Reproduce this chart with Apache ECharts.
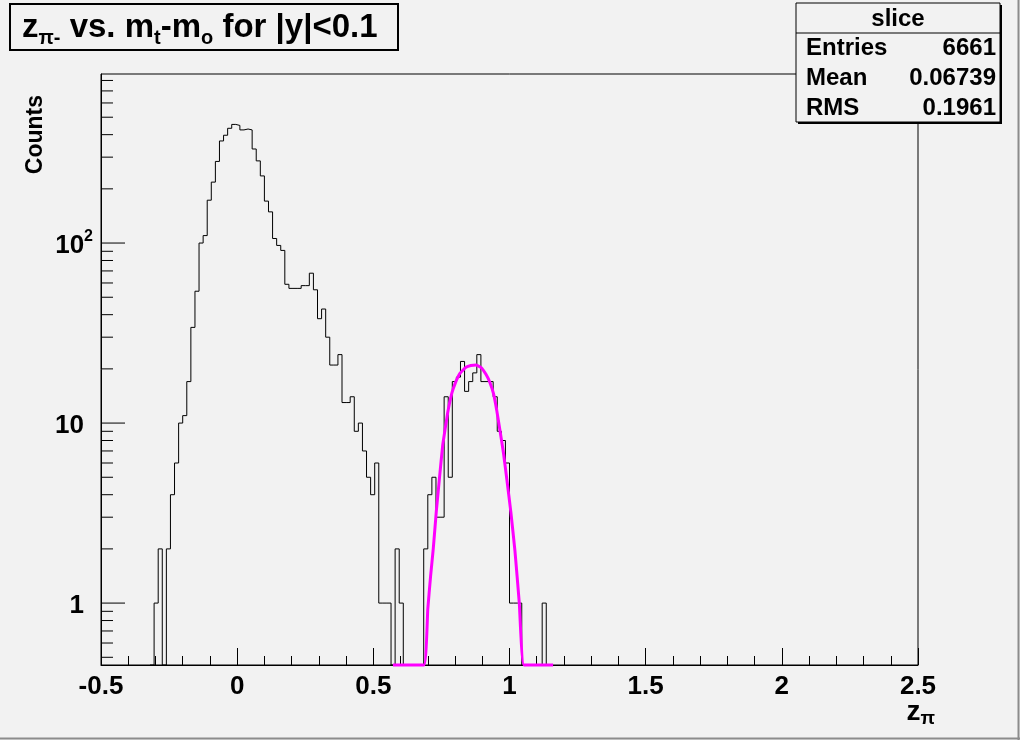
<!DOCTYPE html>
<html><head><meta charset="utf-8">
<script src="https://cdn.jsdelivr.net/npm/echarts@6/dist/echarts.min.js"></script>
<style>html,body{margin:0;padding:0;background:#f2f2f2}#c{width:1020px;height:740px}</style>
</head><body><div id="c"></div><script>
// ---- data ----
const BIN_WIDTH = 0.015;
const FIRST_EDGE = -0.32;          // lower edge of the first listed bin
const counts = [
  0, 1, 2, 0, 2, 4, 6, 10, 11, 17, 34,
  54, 100, 110, 173, 218, 284, 369, 397, 434, 456,
  450, 425, 430, 425, 333, 286, 236, 171, 149, 106,
  97, 91, 59, 56, 56, 56, 58, 58, 68, 55,
  38, 43, 30, 21, 21, 24, 13, 13, 14, 9,
  10, 7, 5, 4, 6, 1, 1, 1, 0, 2,
  1, 0, 0, 0, 0, 0, 2, 4, 5, 3,
  3, 14, 5, 17, 18, 22, 15, 17, 19, 24,
  17, 17, 17, 14, 9, 8, 6, 1, 1, 1,
  0, 0, 0, 0, 0, 1
];
const fitX = [0.572, 0.686, 0.700, 0.710, 0.720, 0.731, 0.742, 0.755, 0.773, 0.788, 0.803, 0.818, 0.840, 0.858, 0.877, 0.895, 0.914, 0.928, 0.941, 0.953, 0.965, 0.978, 0.990, 1.005, 1.020, 1.036, 1.053, 1.160];
const fitY = [0.453, 0.453, 0.93, 1.4, 2.0, 3.2, 4.8, 7.6, 11.4, 14.6, 17.0, 18.9, 20.4, 20.9, 21.0, 20.4, 18.6, 16.8, 14.6, 11.8, 9.1, 6.8, 4.9, 3.2, 1.95, 1.0, 0.453, 0.453];
const xTickLabels = ['-0.5', '0', '0.5', '1', '1.5', '2', '2.5'];
const yMajorTicks = [1, 10, 100];
const yMinorTicks = [0.5, 0.6, 0.7, 0.8, 0.9, 2, 3, 4, 5, 6, 7, 8, 9, 20, 30, 40, 50, 60, 70, 80, 90, 200, 300, 400, 500, 600, 700, 800];
const statsRows = [['Entries', '6661'], ['Mean', '0.06739'], ['RMS', '0.1961']];
const X_MIN = -0.5, X_MAX = 2.5, Y_MIN = 0.453, Y_MAX = 869;

// ---- build ----
const FONT = "'Liberation Sans', Arial, Helvetica, sans-serif";
const histData = counts.map((c, i) => [FIRST_EDGE + i * BIN_WIDTH, Math.max(c, Y_MIN)]);
histData.push([FIRST_EDGE + counts.length * BIN_WIDTH, Y_MIN]);
const fitData = fitX.map((x, i) => [x, fitY[i]]);
const yTickData = yMajorTicks.map(v => [X_MIN, v, 1]).concat(yMinorTicks.map(v => [X_MIN, v, 0]));

const chart = echarts.init(document.getElementById('c'), null, {renderer: 'canvas', width: 1020, height: 740});
const BG = '#f2f2f2';
const statsGraphic = [];
statsGraphic.push({type: 'rect', shape: {x: 798, y: 5, width: 204, height: 119}, style: {fill: '#000'}, z: 100});
statsGraphic.push({type: 'rect', shape: {x: 796, y: 3, width: 204, height: 119}, style: {fill: BG, stroke: '#000', lineWidth: 1}, z: 101});
statsGraphic.push({type: 'line', shape: {x1: 796, y1: 33, x2: 1000, y2: 33}, style: {stroke: '#000', lineWidth: 1}, z: 102});
statsGraphic.push({type: 'text', x: 898, y: 19, style: {text: 'slice', font: 'bold 24px ' + FONT, fill: '#000', align: 'center', verticalAlign: 'middle'}, z: 102});
statsRows.forEach((r, i) => {
  statsGraphic.push({type: 'text', x: 806, y: 48 + 30 * i, style: {text: r[0], font: 'bold 24px ' + FONT, fill: '#000', align: 'left', verticalAlign: 'middle'}, z: 102});
  statsGraphic.push({type: 'text', x: 996, y: 48 + 30 * i, style: {text: r[1], font: 'bold 24px ' + FONT, fill: '#000', align: 'right', verticalAlign: 'middle'}, z: 102});
});

const option = {
  backgroundColor: BG,
  animation: false,
  grid: {left: 101, right: 102, top: 74, bottom: 75, show: true, borderColor: '#000', borderWidth: 1, backgroundColor: 'transparent'},
  xAxis: {
    type: 'value', min: X_MIN, max: X_MAX, interval: 0.5,
    axisLine: {show: true, onZero: false, lineStyle: {color: '#000', width: 1}},
    axisTick: {show: true, inside: true, length: 17, lineStyle: {color: '#000', width: 1}},
    minorTick: {show: true, splitNumber: 5, length: 9, lineStyle: {color: '#000', width: 1}},
    splitLine: {show: false},
    axisLabel: {color: '#000', fontFamily: FONT, fontWeight: 'bold', fontSize: 26, margin: 9,
      formatter: v => xTickLabels[Math.round((v - X_MIN) / 0.5)] || ''}
  },
  yAxis: {
    type: 'log', logBase: 10, min: Y_MIN, max: Y_MAX,
    axisLine: {show: true, onZero: false, lineStyle: {color: '#000', width: 1}},
    axisTick: {show: false},
    splitLine: {show: false},
    axisLabel: {color: '#000', fontFamily: FONT, fontWeight: 'bold', fontSize: 26, margin: 8,
      formatter: v => {
        const l = Math.log10(v);
        if (Math.abs(l - Math.round(l)) > 1e-6) return '';
        const p = Math.round(l);
        if (p === 0) return '{a|1}{p| }';
        if (p === 1) return '{a|10}{p| }';
        if (p === 2) return '{a|10}{b|2}';
        return '';
      },
      rich: {
        a: {fontFamily: FONT, fontWeight: 'bold', fontSize: 26, lineHeight: 32, verticalAlign: 'bottom'},
        p: {fontFamily: FONT, fontSize: 10, width: 9, lineHeight: 32},
        b: {fontFamily: FONT, fontWeight: 'bold', fontSize: 16, lineHeight: 32, verticalAlign: 'top', padding: [2, 0, 0, 0]}
      }
    }
  },
  series: [
    {type: 'line', step: 'end', data: histData, symbol: 'none', lineStyle: {color: '#000', width: 1}, z: 3},
    {type: 'line', data: fitData, symbol: 'none', smooth: 0.1, clip: false, lineStyle: {color: '#ff00ff', width: 3}, z: 4},
    {type: 'custom', data: yTickData, clip: false, z: 5,
      renderItem: (params, api) => {
        const p = api.coord([api.value(0), api.value(1)]);
        const len = api.value(2) ? 24 : 12;
        return {type: 'line', shape: {x1: p[0], y1: p[1], x2: p[0] + len, y2: p[1]}, style: {stroke: '#000', lineWidth: 1}};
      }}
  ],
  graphic: [
    {type: 'line', shape: {x1: 1018.5, y1: 0, x2: 1018.5, y2: 740}, style: {stroke: '#8c8c8c', lineWidth: 2}, z: 100},
    {type: 'line', shape: {x1: 0, y1: 738.5, x2: 1020, y2: 738.5}, style: {stroke: '#8c8c8c', lineWidth: 2}, z: 100},
    {type: 'rect', shape: {x: 10, y: 4, width: 388, height: 46}, style: {fill: BG, stroke: '#000', lineWidth: 2}, z: 100},
    {type: 'text', x: 22, y: 28, z: 101, style: {
      text: '{m|z}{s|π-}{m| vs. m}{s|t}{m|-m}{s|o}{m| for |y|<0.1}',
      verticalAlign: 'middle', align: 'left',
      rich: {
        m: {font: 'bold 33px ' + FONT, fill: '#000', lineHeight: 40, verticalAlign: 'middle'},
        s: {font: 'bold 20px ' + FONT, fill: '#000', lineHeight: 40, verticalAlign: 'bottom'}
      }}},
    {type: 'text', x: 36, y: 95, rotation: Math.PI / 2, z: 101, style: {text: 'Counts', font: 'bold 23px ' + FONT, fill: '#000', align: 'right', verticalAlign: 'middle'}},
    {type: 'text', x: 935, y: 712, z: 101, style: {
      text: '{m|z}{s|π}', align: 'right', verticalAlign: 'middle',
      rich: {
        m: {font: 'bold 28px ' + FONT, fill: '#000', lineHeight: 32, verticalAlign: 'middle'},
        s: {font: 'bold 19px ' + FONT, fill: '#000', lineHeight: 32, verticalAlign: 'bottom'}
      }}}
  ].concat(statsGraphic)
};
chart.setOption(option);
</script></body></html>
